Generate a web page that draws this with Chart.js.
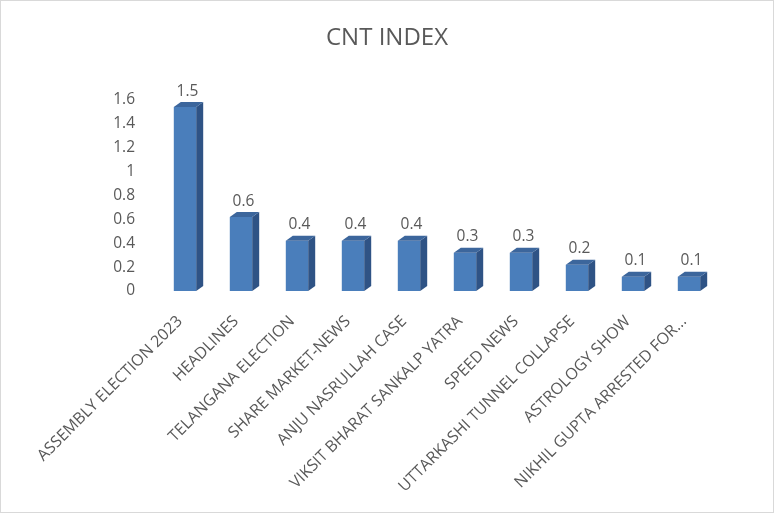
<!DOCTYPE html>
<html>
<head>
<meta charset="utf-8">
<script src="https://cdn.jsdelivr.net/npm/chart.js@4.4.1/dist/chart.umd.min.js"></script>
<style>
  html, body { margin: 0; padding: 0; background: #ffffff; }
  #wrap { width: 774px; height: 513px; position: relative; }
</style>
</head>
<body>
<div id="wrap"><canvas id="c" width="774" height="513"></canvas></div>
<script>
const categories = [
  "ASSEMBLY ELECTION 2023",
  "HEADLINES",
  "TELANGANA ELECTION",
  "SHARE MARKET-NEWS",
  "ANJU NASRULLAH CASE",
  "VIKSIT BHARAT SANKALP YATRA",
  "SPEED NEWS",
  "UTTARKASHI TUNNEL COLLAPSE",
  "ASTROLOGY SHOW",
  "NIKHIL GUPTA ARRESTED FOR..."
];
const cntIndex = [1.54, 0.62, 0.42, 0.42, 0.42, 0.32, 0.32, 0.22, 0.12, 0.12];
const yTicks = [0, 0.2, 0.4, 0.6, 0.8, 1, 1.2, 1.4, 1.6];

const FONT = "'Open Sans', 'Liberation Sans', sans-serif";
const TEXT = '#595959';
const DX = 7, DY = 5;

const bar3d = {
  id: 'bar3d',
  afterDatasetsDraw(chart) {
    const ctx = chart.ctx;
    const meta = chart.getDatasetMeta(0);
    ctx.save();
    meta.data.forEach((el, i) => {
      const p = el.getProps(['x', 'y', 'base', 'width'], true);
      const l = p.x - p.width / 2, r = p.x + p.width / 2;
      ctx.fillStyle = '#2f5385';
      ctx.beginPath();
      ctx.moveTo(r, p.y);
      ctx.lineTo(r + DX, p.y - DY);
      ctx.lineTo(r + DX, p.base - DY);
      ctx.lineTo(r, p.base);
      ctx.closePath();
      ctx.fill();
      ctx.fillStyle = '#3c669c';
      ctx.beginPath();
      ctx.moveTo(l, p.y);
      ctx.lineTo(l + DX, p.y - DY);
      ctx.lineTo(r + DX, p.y - DY);
      ctx.lineTo(r, p.y);
      ctx.closePath();
      ctx.fill();
      ctx.fillStyle = TEXT;
      ctx.font = '15.5px ' + FONT;
      ctx.textAlign = 'center';
      ctx.textBaseline = 'bottom';
      ctx.fillText(cntIndex[i].toFixed(1), p.x + DX / 2 - 1, p.y - DY - 3);
    });
    ctx.restore();
  }
};

const frame = {
  id: 'frame',
  afterDraw(chart) {
    const ctx = chart.ctx;
    ctx.save();
    ctx.strokeStyle = '#d9d9d9';
    ctx.lineWidth = 1;
    ctx.strokeRect(0.5, 0.5, chart.width - 1, chart.height - 1);
    ctx.restore();
  }
};

new Chart(document.getElementById('c'), {
  type: 'bar',
  data: {
    labels: categories,
    datasets: [{
      label: 'CNT INDEX',
      data: cntIndex,
      backgroundColor: '#4a7ebb',
      borderWidth: 0,
      barPercentage: 0.4,
      categoryPercentage: 1.0
    }]
  },
  options: {
    responsive: false,
    animation: false,
    devicePixelRatio: 1,
    layout: { padding: { left: 57, right: 57, top: 0, bottom: 0 } },
    plugins: {
      legend: { display: false },
      tooltip: { enabled: false },
      title: {
        display: true,
        text: 'CNT INDEX',
        color: TEXT,
        font: { family: FONT, size: 24, weight: 'normal' },
        padding: { top: 24, bottom: 47 }
      }
    },
    scales: {
      x: {
        grid: { display: false, drawTicks: false },
        border: { display: false },
        ticks: {
          color: TEXT,
          font: { family: FONT, size: 16 },
          minRotation: 45,
          maxRotation: 45,
          autoSkip: false,
          padding: 21,
          labelOffset: -5
        },
        afterFit(scale) { scale.height = 222; }
      },
      y: {
        min: 0,
        max: 1.6,
        grid: { display: false, drawTicks: false },
        border: { display: false },
        afterBuildTicks(scale) { scale.ticks = yTicks.map(v => ({ value: v })); },
        ticks: {
          color: TEXT,
          font: { family: FONT, size: 15.5 },
          padding: 22,
          callback: v => String(Math.round(v * 10) / 10)
        },
        afterFit(scale) { scale.width = 100; }
      }
    }
  },
  plugins: [bar3d, frame]
});
</script>
</body>
</html>
